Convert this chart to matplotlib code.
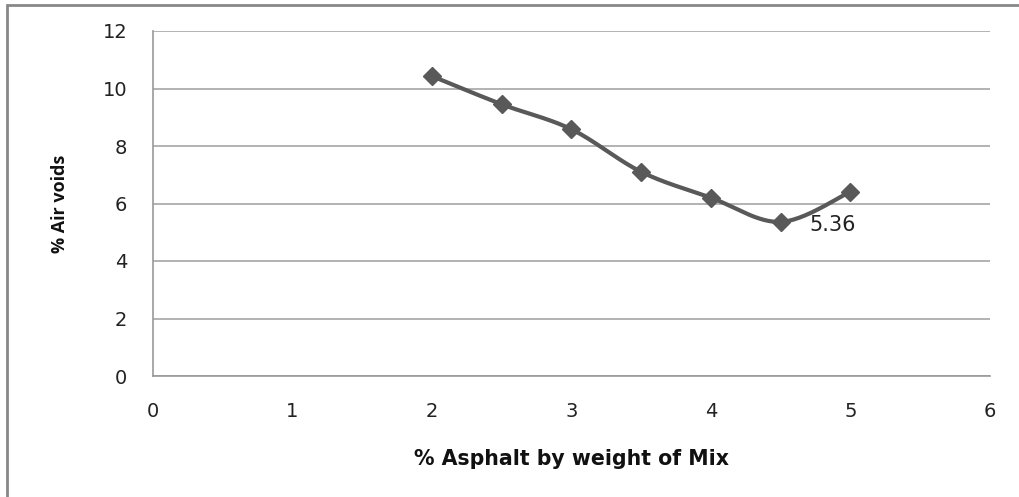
import numpy as np
import matplotlib
matplotlib.use("Agg")
import matplotlib.pyplot as plt
from matplotlib.patches import Rectangle

plt.rcParams["font.family"] = ["DejaVu Sans"]

asphalt = [2.0, 2.5, 3.0, 3.5, 4.0, 4.5, 5.0]
air_voids = [10.43, 9.45, 8.58, 7.1, 6.2, 5.36, 6.41]
x_ticks = [0, 1, 2, 3, 4, 5, 6]
y_ticks = [0, 2, 4, 6, 8, 10, 12]
min_label = "5.36"

def cardinal(xs, ys, n=30, t=0.5):
    xs = np.asarray(xs, float); ys = np.asarray(ys, float)
    px = np.concatenate([[xs[0]], xs, [xs[-1]]])
    py = np.concatenate([[ys[0]], ys, [ys[-1]]])
    ox, oy = [], []
    for i in range(1, len(px) - 2):
        p0 = np.array([px[i-1], py[i-1]]); p1 = np.array([px[i], py[i]])
        p2 = np.array([px[i+1], py[i+1]]); p3 = np.array([px[i+2], py[i+2]])
        m1 = t * (p2 - p0); m2 = t * (p3 - p1)
        s = np.linspace(0, 1, n)
        h00 = 2*s**3 - 3*s**2 + 1; h10 = s**3 - 2*s**2 + s
        h01 = -2*s**3 + 3*s**2; h11 = s**3 - s**2
        pts = np.outer(h00, p1) + np.outer(h10, m1) + np.outer(h01, p2) + np.outer(h11, m2)
        ox.extend(pts[:, 0]); oy.extend(pts[:, 1])
    return ox, oy

W, H = 1020, 497
fig = plt.figure(figsize=(W/100, H/100), dpi=100)
fig.patch.set_facecolor("white")
fig.add_artist(Rectangle((7/W, -0.05), 1.2, (H - 5)/H + 0.05, transform=fig.transFigure,
                         fill=False, edgecolor="#888888", linewidth=2))

ax = fig.add_axes([153/W, 1 - 376/H, (990-153)/W, (376-31)/H])
ax.set_xlim(0, 6)
ax.set_ylim(0, 12)
ax.set_xticks(x_ticks)
ax.set_yticks(y_ticks)
ax.tick_params(length=0, labelsize=14, colors="#222222")
ax.tick_params(axis="x", pad=19)
ax.tick_params(axis="y", pad=18.5)
ax.yaxis.grid(True, color="#a6a6a6", linewidth=1.2)
ax.set_axisbelow(True)
for s in ["top", "right"]:
    ax.spines[s].set_visible(False)
for s in ["left", "bottom"]:
    ax.spines[s].set_color("#999999")
    ax.spines[s].set_linewidth(1.2)

sx, sy = cardinal(asphalt, air_voids)
ax.plot(sx, sy, color="#595959", linewidth=3, zorder=3)
ax.plot(asphalt, air_voids, linestyle="none", marker="D", markersize=9,
        color="#595959", zorder=4)

ax.annotate(min_label, (asphalt[5], air_voids[5]), xytext=(37, -2), textcoords="offset points",
            ha="center", va="center", fontsize=15, color="#222222")

ax.set_xlabel("% Asphalt by weight of Mix", fontsize=14.8, fontweight="bold",
              family="DejaVu Sans", labelpad=20, color="#111111")
ax.set_ylabel("% Air voids", fontsize=13, fontweight="bold",
              family="Open Sans", labelpad=24, color="#111111")

fig.savefig("out.png", dpi=100, facecolor="white")
